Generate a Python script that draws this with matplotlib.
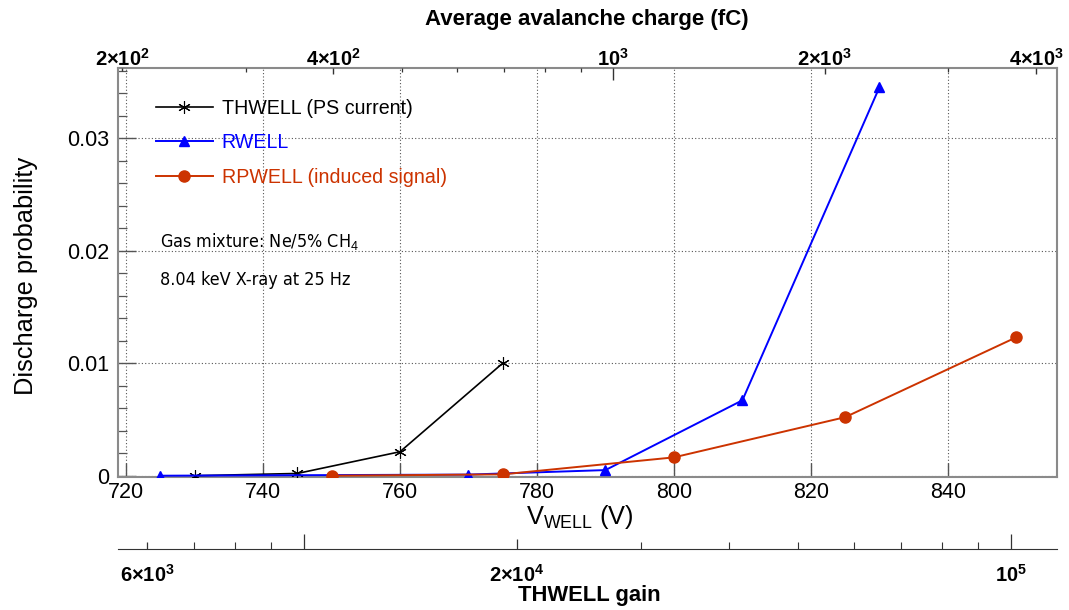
import matplotlib
matplotlib.use("Agg")
import matplotlib.pyplot as plt
from matplotlib.ticker import FixedLocator, FixedFormatter

plt.rcParams['font.family'] = ['Liberation Sans', 'DejaVu Sans']
plt.rcParams['mathtext.fontset'] = 'custom'
plt.rcParams['mathtext.rm'] = 'Liberation Sans'
plt.rcParams['mathtext.bf'] = 'Liberation Sans:bold'

# ---- data ----
thwell_v = [730, 745, 760, 775]
thwell_p = [0.0, 0.0002, 0.00213, 0.0100]
rwell_v = [725, 770, 790, 810, 830]
rwell_p = [0.0, 0.0001, 0.0005, 0.0067, 0.0345]
rpwell_v = [750, 775, 800, 825, 850]
rpwell_p = [0.0, 0.00012, 0.00163, 0.0052, 0.0123]

x_ticks = [720, 740, 760, 780, 800, 820, 840]
y_ticks = [0, 0.01, 0.02, 0.03]
y_ticklabels = ['0', '0.01', '0.02', '0.03']

charge_ticks = [200, 400, 1000, 2000, 4000]
charge_labels = [r'$\mathbf{2{\times}10^{2}}$', r'$\mathbf{4{\times}10^{2}}$',
                 r'$\mathbf{10^{3}}$', r'$\mathbf{2{\times}10^{3}}$',
                 r'$\mathbf{4{\times}10^{3}}$']
charge_minor = [300, 500, 600, 700, 800, 900, 3000]

gain_ticks = [6e3, 1e4, 2e4, 1e5]
gain_labels = [r'$\mathbf{6{\times}10^{3}}$', '', r'$\mathbf{2{\times}10^{4}}$',
               r'$\mathbf{10^{5}}$']
gain_minor = [7e3, 8e3, 9e3, 3e4, 4e4, 5e4, 6e4, 7e4, 8e4, 9e4]

RED = '#cc3300'
BLUE = '#0000ff'
FRAME = '#8a8a8a'
PX = 72 / 100  # points per pixel
W, H = 1069, 610


def set_tick_lengths(axis, lengths_px):
    ticks = axis.get_major_ticks(len(lengths_px))
    for t, l in zip(ticks, lengths_px):
        t.tick1line.set_markersize(l * PX)
        t.tick2line.set_markersize(l * PX)


fig = plt.figure(figsize=(10.69, 6.10), dpi=100)
L, R = 117.9 / W, 1056.7 / W
B, T = 1 - 476.5 / H, 1 - 68.3 / H
ax = fig.add_axes([L, B, R - L, T - B])

ax.plot(thwell_v, thwell_p, color='black', lw=1.2, marker=(6, 2, 0), ms=9,
        mew=0.8, label='THWELL (PS current)', zorder=3)
ax.plot(rwell_v, rwell_p, color=BLUE, lw=1.4, marker='^', ms=7,
        label='RWELL', zorder=4)
ax.plot(rpwell_v, rpwell_p, color=RED, lw=1.4, marker='o', ms=8,
        label='RPWELL (induced signal)', zorder=5)

ax.set_xlim(718.8, 855.9)
ax.set_ylim(-0.00007, 0.0362)
ax.set_xticks(x_ticks)
ax.set_xticklabels([str(v) for v in x_ticks])
ax.set_yticks(y_ticks)
ax.set_yticklabels(y_ticklabels)
ax.yaxis.set_minor_locator(FixedLocator([i * 0.002 for i in range(1, 19)]))
ax.grid(True, which='major', color='#555555', linestyle=(0, (1, 2)), lw=0.8)
ax.tick_params(axis='both', which='major', direction='in', width=1.0,
               labelsize=15.5, right=False, top=False, color='#555555')
ax.tick_params(axis='x', which='major', length=14 * PX, pad=4)
ax.tick_params(axis='y', which='major', length=18 * PX, pad=6)
ax.tick_params(axis='y', which='minor', direction='in', length=9 * PX,
               width=0.9, color='#555555')
for s in ax.spines.values():
    s.set_color(FRAME)
    s.set_linewidth(1.5)
ax.set_ylabel('Discharge probability', fontsize=18.3, va='bottom')
ax.yaxis.set_label_coords(38 / W, 1 - 276 / H, transform=fig.transFigure)
ax.set_xlabel(r'V$_{\mathrm{WELL}}$ (V)', fontsize=18.3, va='center')
ax.xaxis.set_label_coords(580 / W, 1 - 517 / H, transform=fig.transFigure)

leg = ax.legend(loc='upper left', bbox_to_anchor=(156 / W, 1 - 99 / H),
                bbox_transform=fig.transFigure, frameon=False,
                fontsize=14.1, handlelength=2.9, labelspacing=0.78,
                handletextpad=0.45, borderpad=0, borderaxespad=0)
for txt, c in zip(leg.get_texts(), ['black', BLUE, RED]):
    txt.set_color(c)

fig.text(160 / W, 1 - 242 / H, r'Gas mixture: Ne/5% CH$_4$', fontsize=12.85,
         family='DejaVu Sans', fontstretch='condensed', va='center')
fig.text(160 / W, 1 - 280 / H, '8.04 keV X-ray at 25 Hz', fontsize=12.85,
         family='DejaVu Sans', fontstretch='condensed', va='center')

# top axis: average avalanche charge
axt = ax.twiny()
axt.set_xscale('log')
axt.set_xlim(197.4, 4280)
axt.xaxis.set_major_locator(FixedLocator(charge_ticks))
axt.xaxis.set_major_formatter(FixedFormatter(charge_labels))
axt.xaxis.set_minor_locator(FixedLocator(charge_minor))
axt.xaxis.set_minor_formatter(FixedFormatter([''] * len(charge_minor)))
axt.tick_params(axis='x', which='major', direction='in', length=6 * PX,
                width=1.0, labelsize=14.5, pad=-1, color='#333333')
axt.tick_params(axis='x', which='minor', direction='in', length=4 * PX,
                width=0.9, color='#333333')
set_tick_lengths(axt.xaxis, [3, 6, 12, 6, 6])
axt.set_xlabel('Average avalanche charge (fC)', fontsize=16, fontweight='bold',
               va='center')
axt.xaxis.set_label_coords(587 / W, 1 - 19 / H, transform=fig.transFigure)
for s in axt.spines.values():
    s.set_visible(False)

# bottom axis: THWELL gain
yb = 1 - 549 / H
axg = fig.add_axes([L, yb, R - L, 0.001])
axg.set_xscale('log')
axg.set_xlim(5457, 116200)
axg.set_yticks([])
for k in ['left', 'right', 'top']:
    axg.spines[k].set_visible(False)
axg.spines['bottom'].set_color('#333333')
axg.patch.set_visible(False)
axg.xaxis.set_major_locator(FixedLocator(gain_ticks))
axg.xaxis.set_major_formatter(FixedFormatter(gain_labels))
axg.xaxis.set_minor_locator(FixedLocator(gain_minor))
axg.xaxis.set_minor_formatter(FixedFormatter([''] * len(gain_minor)))
axg.tick_params(axis='x', which='major', direction='in', length=10 * PX,
                width=0.9, labelsize=14.5, pad=11, color='#333333')
axg.tick_params(axis='x', which='minor', direction='in', length=7 * PX,
                width=0.8, color='#333333')
set_tick_lengths(axg.xaxis, [7, 15, 10, 15])
axg.set_xlabel('THWELL gain', fontsize=15.8, fontweight='bold', va='center')
axg.xaxis.set_label_coords(589 / W, 1 - 596 / H, transform=fig.transFigure)

fig.savefig('out.png', dpi=100)
